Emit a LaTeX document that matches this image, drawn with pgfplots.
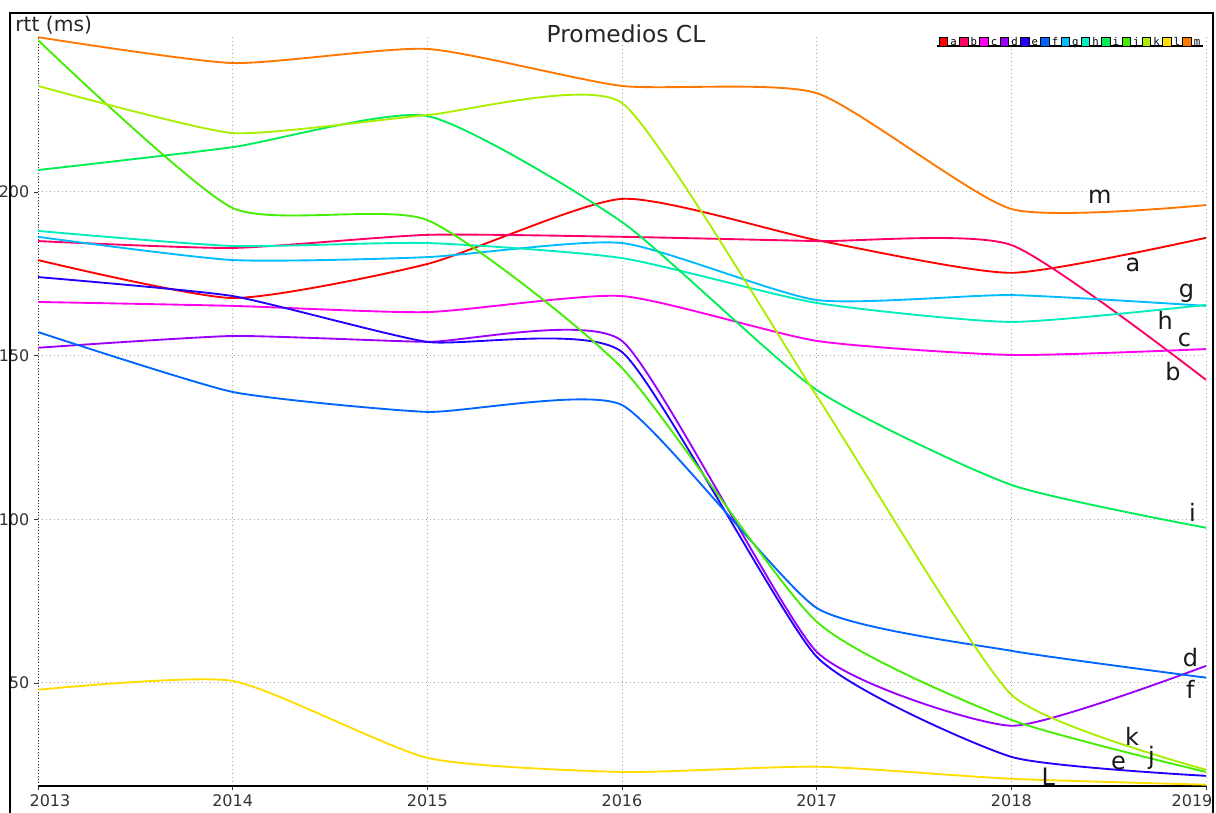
\documentclass[border=0pt]{standalone}
\usepackage{pgfplots}
\pgfplotsset{compat=1.18}
\usepackage{fontspec}
\setmainfont{DejaVu Sans}
\newfontfamily\legfont{DejaVu Sans Mono}
\definecolor{serA}{HTML}{FF0000}
\definecolor{serB}{HTML}{FF0066}
\definecolor{serC}{HTML}{FF00EE}
\definecolor{serD}{HTML}{9900FF}
\definecolor{serE}{HTML}{2200FF}
\definecolor{serF}{HTML}{0066FF}
\definecolor{serG}{HTML}{00BBFF}
\definecolor{serH}{HTML}{00EEBB}
\definecolor{serI}{HTML}{00EE55}
\definecolor{serJ}{HTML}{44EE00}
\definecolor{serK}{HTML}{AAEE00}
\definecolor{serL}{HTML}{FFDD00}
\definecolor{serM}{HTML}{FF7700}
\begin{document}
\begin{tikzpicture}
\begin{axis}[
  scale only axis, width=876pt, height=562.1pt,
  at={(28.5pt,20.25pt)}, anchor=south west,
  xmin=2013, xmax=2019, ymin=18.5, ymax=247.5,
  axis x line*=bottom, axis y line*=left,
  x axis line style={-, black, line width=0.8pt},
  y axis line style={-, black!80, dash pattern=on 0.75pt off 1.5pt, line width=0.75pt},
  xtick={2013,2014,2015,2016,2017,2018,2019},
  xticklabels={\hspace*{18pt}2013,2014,2015,2016,2017,2018,2019\hspace*{21pt}},
  ytick={50,100,150,200},
  /pgf/number format/assume math mode=true,
  tick align=outside, major tick length=3pt,
  tick style={black!80, line width=0.6pt},
  grid=major,
  major grid style={gray!70, dash pattern=on 0.75pt off 2.25pt, line width=0.75pt},
  tick label style={font=\fontsize{12}{14}\selectfont, text=black!80},
  every axis plot/.append style={line width=1.4pt, smooth, tension=0.35},
  legend columns=13,
  legend style={draw=none, fill=none, at={(0.996,0.993)}, anchor=east,
    font=\legfont\fontsize{8}{8}\selectfont, column sep=1.2pt,
    inner sep=0pt, nodes={inner sep=0.6pt, text height=5.5pt, text depth=0pt}},
  legend image code/.code={\draw[#1, draw=black, fill, line width=0.4pt] (0pt,-3.2pt) rectangle (6.4pt,3.2pt);},
  clip=true,
]
\addplot[color=serA] coordinates {(2013,179.2) (2014,167.6) (2015,178.0) (2016,197.9) (2017,185.3) (2018,175.3) (2019,186.0)};
\addlegendentry{a}
\addplot[color=serB] coordinates {(2013,185.0) (2014,182.9) (2015,186.9) (2016,186.3) (2017,185.0) (2018,183.8) (2019,142.6)};
\addlegendentry{b}
\addplot[color=serC] coordinates {(2013,166.4) (2014,165.2) (2015,163.3) (2016,168.2) (2017,154.5) (2018,150.2) (2019,152.0)};
\addlegendentry{c}
\addplot[color=serD, tension=0.3] coordinates {(2013,152.4) (2014,156.0) (2015,154.2) (2016,154.5) (2017,59.5) (2018,36.9) (2019,55.2)};
\addlegendentry{d}
\addplot[color=serE, tension=0.3] coordinates {(2013,174.0) (2014,168.2) (2015,154.2) (2016,151.1) (2017,58.0) (2018,27.4) (2019,21.6)};
\addlegendentry{e}
\addplot[color=serF, tension=0.3] coordinates {(2013,157.2) (2014,138.9) (2015,132.8) (2016,134.9) (2017,72.9) (2018,59.8) (2019,51.6)};
\addlegendentry{f}
\addplot[color=serG] coordinates {(2013,186.3) (2014,179.2) (2015,180.1) (2016,184.4) (2017,167.0) (2018,168.5) (2019,165.2)};
\addlegendentry{g}
\addplot[color=serH] coordinates {(2013,188.1) (2014,183.5) (2015,184.4) (2016,179.8) (2017,166.1) (2018,160.3) (2019,165.5)};
\addlegendentry{h}
\addplot[color=serI] coordinates {(2013,206.7) (2014,213.7) (2015,223.2) (2016,190.8) (2017,139.5) (2018,110.5) (2019,97.4)};
\addlegendentry{i}
\addplot[color=serJ] coordinates {(2013,246.4) (2014,195.1) (2015,191.4) (2016,146.2) (2017,68.7) (2018,38.7) (2019,22.8)};
\addlegendentry{j}
\addplot[color=serK, tension=0.3] coordinates {(2013,232.4) (2014,218.0) (2015,223.5) (2016,227.2) (2017,137.7) (2018,46.4) (2019,23.5)};
\addlegendentry{k}
\addplot[color=serL] coordinates {(2013,47.9) (2014,50.6) (2015,27.1) (2016,22.8) (2017,24.4) (2018,20.7) (2019,18.9)};
\addlegendentry{l}
\addplot[color=serM] coordinates {(2013,247.3) (2014,239.4) (2015,243.7) (2016,232.4) (2017,230.2) (2018,194.8) (2019,196.0)};
\addlegendentry{m}
\begin{scope}[every node/.style={font=\fontsize{18}{20}\selectfont, text=black!90, inner sep=0pt}]
\node at (axis cs:2018.455,198.5) {m};
\node at (axis cs:2018.625,177.7) {a};
\node at (axis cs:2018.90,169.0) {g};
\node at (axis cs:2018.79,160.9) {h};
\node at (axis cs:2018.89,154.8) {c};
\node at (axis cs:2018.83,145.0) {b};
\node at (axis cs:2018.93,102.0) {i};
\node at (axis cs:2018.92,57.6) {d};
\node at (axis cs:2018.92,47.9) {f};
\node at (axis cs:2018.62,33.8) {k};
\node at (axis cs:2018.72,27.2) {j};
\node at (axis cs:2018.55,25.6) {e};
\node at (axis cs:2018.19,21.3) {L};
\end{scope}
\draw[black, line width=0.9pt] (axis description cs:0.7697,0.9873) -- (axis description cs:0.9974,0.9873);
\end{axis}
\node[anchor=base, font=\fontsize{17.5}{20}\selectfont, text=black!85, inner sep=0pt] at (469.5pt,577.5pt) {Promedios CL};
\node[anchor=base west, font=\fontsize{15.2}{18}\selectfont, text=black!85, inner sep=0pt] at (11.25pt,585.75pt) {rtt (ms)};
\draw[black, line width=1.1pt] (7.5pt,-5pt) -- (7.5pt,600pt) -- (909.75pt,600pt) -- (909.75pt,-5pt);
\pgfresetboundingbox
\useasboundingbox (0,0) rectangle (912pt,609.75pt);
\end{tikzpicture}
\end{document}
